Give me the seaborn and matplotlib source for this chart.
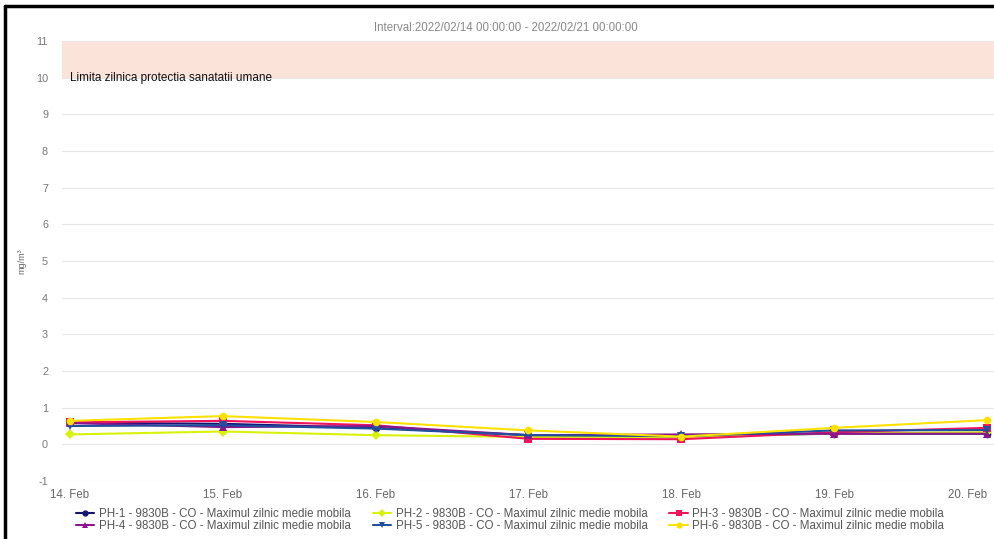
import matplotlib
matplotlib.use("Agg")
import matplotlib.pyplot as plt
from matplotlib.lines import Line2D
import seaborn as sns
import pandas as pd
import numpy as np

days = ["14. Feb", "15. Feb", "16. Feb", "17. Feb", "18. Feb", "19. Feb", "20. Feb"]
ph1 = [0.59, 0.56, 0.45, 0.25, 0.22, 0.29, 0.29]
ph2 = [0.27, 0.35, 0.25, 0.20, 0.20, 0.30, 0.33]
ph3 = [0.60, 0.64, 0.52, 0.15, 0.14, 0.33, 0.45]
ph4 = [0.58, 0.47, 0.50, 0.25, 0.27, 0.29, 0.29]
ph5 = [0.50, 0.52, 0.43, 0.25, 0.22, 0.38, 0.39]
ph6 = [0.64, 0.77, 0.61, 0.38, 0.21, 0.45, 0.66]
series_names = [
    "PH-1 - 9830B - CO - Maximul zilnic medie mobila",
    "PH-2 - 9830B - CO - Maximul zilnic medie mobila",
    "PH-3 - 9830B - CO - Maximul zilnic medie mobila",
    "PH-4 - 9830B - CO - Maximul zilnic medie mobila",
    "PH-5 - 9830B - CO - Maximul zilnic medie mobila",
    "PH-6 - 9830B - CO - Maximul zilnic medie mobila",
]
colors = ["#141473", "#d9f20a", "#f0145a", "#8c148c", "#1e50a0", "#ffe100"]
markers = ["o", "D", "s", "^", "v", "o"]
limit_low, limit_high = 10, 11
title = "Interval:2022/02/14 00:00:00 - 2022/02/21 00:00:00"
limit_label = "Limita zilnica protectia sanatatii umane"
yticks = list(range(-1, 12))

all_vals = [ph1, ph2, ph3, ph4, ph5, ph6]
rows = []
for name, vals in zip(series_names, all_vals):
    for i, v in enumerate(vals):
        rows.append({"day": i, "value": v, "series": name})
df = pd.DataFrame(rows)

sns.set_theme(style="white")
plt.rcParams['font.family'] = ['Liberation Sans', 'DejaVu Sans']
plt.rcParams['axes.unicode_minus'] = False

fig = plt.figure(figsize=(9.95, 5.39), dpi=100)
ax = fig.add_axes([62/995, 1-481/539, 1-62/995, (481-41)/539])

ax.axhspan(limit_low, limit_high, color="#fce3da", zorder=0, lw=0)
ax.text(0.0, limit_low, limit_label, fontsize=8.5, color="#111111",
        va="center", ha="left", zorder=5)

palette = dict(zip(series_names, colors))
mk = dict(zip(series_names, markers))
sns.lineplot(data=df, x="day", y="value", hue="series", style="series",
             palette=palette, markers=mk, dashes=False, linewidth=1.5,
             markersize=5.5, markeredgewidth=0, ax=ax, legend=False, zorder=3)

ax.set_xlim(-0.05, 6.05)
ax.set_ylim(-1, 11)
ax.set_yticks(yticks)
ax.set_yticklabels([str(v) for v in yticks])
ax.set_xticks(range(len(days)))
ax.set_xticklabels(days)
ax.tick_params(axis="x", labelsize=8.3, colors="#666666", length=0, pad=6)
ax.tick_params(axis="y", labelsize=7.8, colors="#777777", length=0, pad=10)
last = ax.get_xticklabels()[-1]
last.set_ha("right")
last.set_x(6.05)
ax.grid(axis="y", color="#e6e6e6", lw=0.8)
ax.grid(axis="x", visible=False)
for s in ax.spines.values():
    s.set_visible(False)
ax.set_xlabel("")
ax.set_ylabel("mg/m³", fontsize=6.5, color="#666666")
ax.yaxis.set_label_coords(-36/933, 0.5)

fig.text(506/995, 1-28/539, title, fontsize=8.3, color="#888888", ha="center", va="center")

handles = [Line2D([0], [0], color=c, marker=m, markersize=4.5, lw=1.5, markeredgewidth=0)
           for c, m in zip(colors, markers)]
order = [0, 3, 1, 4, 2, 5]
leg = fig.legend([handles[i] for i in order], [series_names[i] for i in order],
                 ncol=3, loc="center", bbox_to_anchor=(510/995, 1-520/539),
                 frameon=False, fontsize=8.3, handlelength=1.6, columnspacing=1.9,
                 labelspacing=0.05, handletextpad=0.4)
for t in leg.get_texts():
    t.set_color("#555555")

# screenshot frame
fig.add_artist(Line2D([5/995, 5/995], [0, 1-6/539], color="black", lw=2.5, transform=fig.transFigure))
fig.add_artist(Line2D([5/995, 994/995], [1-6/539, 1-6/539], color="black", lw=2.5, transform=fig.transFigure))

fig.savefig("out.png", dpi=100)
